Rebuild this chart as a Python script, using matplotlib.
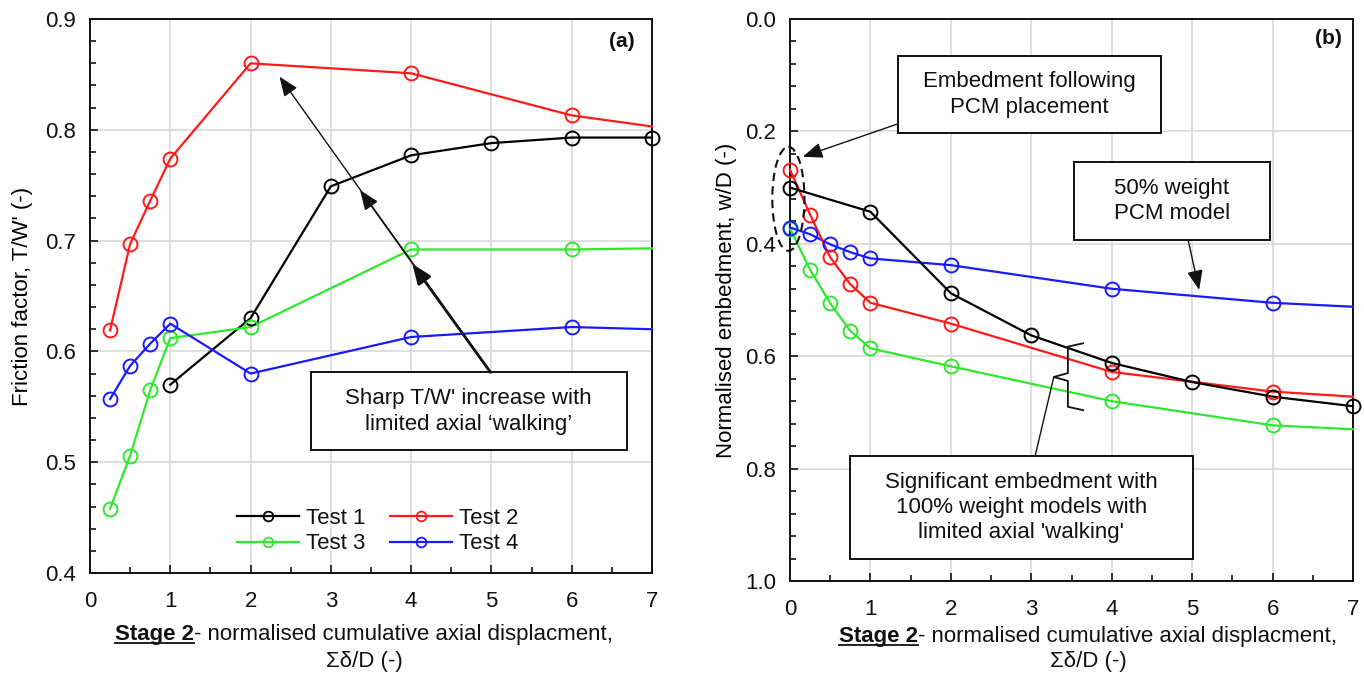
import numpy as np
import matplotlib
matplotlib.use("Agg")
import matplotlib.pyplot as plt
from matplotlib.patches import Rectangle, Ellipse
from matplotlib.lines import Line2D
from matplotlib.ticker import MultipleLocator, FormatStrFormatter

plt.rcParams['font.family'] = ['Liberation Sans', 'DejaVu Sans']
plt.rcParams['text.color'] = '#111111'

# ---------------- (a) friction factor T/W' ----------------
a_test1_x = [1, 2, 3, 4, 5, 6, 7]
a_test1_y = [0.570, 0.630, 0.749, 0.777, 0.788, 0.793, 0.793]
a_x = [0.25, 0.5, 0.75, 1, 2, 4, 6, 7]
a_test2_y = [0.619, 0.697, 0.736, 0.774, 0.860, 0.851, 0.813, 0.803]
a_test3_y = [0.458, 0.506, 0.565, 0.612, 0.622, 0.692, 0.692, 0.693]
a_test4_y = [0.557, 0.587, 0.607, 0.625, 0.580, 0.613, 0.622, 0.620]

# ---------------- (b) normalised embedment w/D ----------------
b_test1_x = [0, 1, 2, 3, 4, 5, 6, 7]
b_test1_y = [0.300, 0.343, 0.488, 0.563, 0.612, 0.646, 0.672, 0.689]
b_x = [0, 0.25, 0.5, 0.75, 1, 2, 4, 6, 7]
b_test2_y = [0.268, 0.348, 0.424, 0.472, 0.505, 0.542, 0.628, 0.663, 0.672]
b_test3_y = [0.373, 0.446, 0.506, 0.555, 0.586, 0.618, 0.680, 0.723, 0.730]
b_test4_y = [0.371, 0.383, 0.401, 0.415, 0.426, 0.438, 0.480, 0.505, 0.512]

series_names = ['Test 1', 'Test 2', 'Test 3', 'Test 4']
series_colors = ['#000000', '#ff1a1a', '#2ee82e', '#1a1aff']

W, H = 1364, 675
fig = plt.figure(figsize=(W / 100, H / 100), dpi=100)
ax1 = fig.add_axes([90 / W, 1 - 573 / H, 562 / W, 554 / H])
ax2 = fig.add_axes([790 / W, 1 - 581 / H, 563 / W, 562 / H])

LW, MS, MEW = 1.6, 10, 1.4
FS = 16


def draw_series(ax, x, y, color, last_marker=True):
    x = np.asarray(x, float)
    y = np.asarray(y, float)
    ax.plot(x, y, '-', color=color, lw=LW, zorder=3, clip_on=False)
    n = len(x) if last_marker else len(x) - 1
    ax.plot(x[:n], y[:n], 'o', mfc='none', mec=color, ms=MS, mew=MEW,
            zorder=4, clip_on=False)


def style_axes(ax, ylim, ymajor, yminor, yfmt):
    ax.set_xlim(0, 7)
    ax.set_ylim(*ylim)
    ax.xaxis.set_major_locator(MultipleLocator(1))
    ax.xaxis.set_minor_locator(MultipleLocator(0.5))
    ax.yaxis.set_major_locator(MultipleLocator(ymajor))
    ax.yaxis.set_minor_locator(MultipleLocator(yminor))
    ax.yaxis.set_major_formatter(FormatStrFormatter(yfmt))
    ax.xaxis.set_major_formatter(FormatStrFormatter('%d'))
    ax.tick_params(which='both', direction='in', top=False, right=False,
                   labelsize=FS, width=1.2, colors='#111111')
    ax.tick_params(axis='x', pad=13)
    ax.tick_params(axis='y', pad=10)
    ax.tick_params(which='major', length=6)
    ax.tick_params(which='minor', length=4)
    ax.grid(True, which='major', color='#d6d6d6', lw=1.1, zorder=0)
    for s in ax.spines.values():
        s.set_linewidth(1.4)
        s.set_color('#111111')


# ---- panel (a)
style_axes(ax1, (0.4, 0.9), 0.1, 0.02, '%.1f')
draw_series(ax1, a_test1_x, a_test1_y, series_colors[0], True)
draw_series(ax1, a_x, a_test2_y, series_colors[1], False)
draw_series(ax1, a_x, a_test3_y, series_colors[2], False)
draw_series(ax1, a_x, a_test4_y, series_colors[3], False)
ax1.set_ylabel("Friction factor, T/W' (-)", fontsize=FS)
ax1.yaxis.set_label_coords(-0.102, 0.5)
ax1.text(0.946, 0.959, '(a)', transform=ax1.transAxes, fontsize=FS - 1,
         fontweight='bold', ha='center', va='center')

handles = [Line2D([], [], color=c, lw=LW, marker='o', mfc='none', mec=c,
                  ms=7, mew=1.3) for c in series_colors]
# two columns, rows: Test 1 / Test 2, then Test 3 / Test 4
order = [0, 2, 1, 3]
ax1.legend([handles[i] for i in order], [series_names[i] for i in order],
           ncol=2, loc='center', bbox_to_anchor=(0.512, 0.0754),
           frameon=False, fontsize=FS, handlelength=2.8, handletextpad=0.3,
           columnspacing=1.1, labelspacing=0.2, borderaxespad=0, borderpad=0)

# callout box and arrows
ax1.add_patch(Rectangle((2.75, 0.511), 6.685 - 2.75, 0.581 - 0.511,
                        fill=True, fc='white', ec='#111111', lw=1.4, zorder=5))
ax1.text((2.75 + 6.685) / 2, 0.546,
         "Sharp T/W' increase with\nlimited axial \u2018walking\u2019",
         ha='center', va='center', fontsize=FS, linespacing=1.3, zorder=6)
arrow_start = (4.99, 0.581)
for tip, lw in [((2.36, 0.848), 1.0), ((3.364, 0.7455), 1.1), ((4.015, 0.679), 2.0)]:
    ax1.annotate('', xy=tip, xytext=arrow_start,
                 arrowprops=dict(arrowstyle='-|>,head_length=0.5,head_width=0.2',
                                 color='#111111', lw=lw,
                                 mutation_scale=24, shrinkA=0, shrinkB=0),
                 zorder=5)

# ---- panel (b)
style_axes(ax2, (1.0, 0.0), 0.2, 0.04, '%.1f')
draw_series(ax2, b_x, b_test3_y, series_colors[2], False)
draw_series(ax2, b_x, b_test4_y, series_colors[3], False)
draw_series(ax2, b_x, b_test2_y, series_colors[1], False)
draw_series(ax2, b_test1_x, b_test1_y, series_colors[0], True)
ax2.set_ylabel("Normalised embedment, w/D (-)", fontsize=FS)
ax2.yaxis.set_label_coords(-0.094, 0.5)
ax2.text(0.956, 0.966, '(b)', transform=ax2.transAxes, fontsize=FS - 1,
         fontweight='bold', ha='center', va='center')

head = '-|>,head_length=0.5,head_width=0.2'

# box 1: placement
ax2.add_patch(Rectangle((1.344, 0.066), 4.608 - 1.344, 0.203 - 0.066,
                        fc='white', ec='#111111', lw=1.4, zorder=5))
ax2.text((1.344 + 4.608) / 2, 0.1345, "Embedment following\nPCM placement",
         ha='center', va='center', fontsize=FS, linespacing=1.3, zorder=6)
ax2.annotate('', xy=(0.16, 0.245), xytext=(1.333, 0.187),
             arrowprops=dict(arrowstyle=head, color='#111111', lw=1.0,
                             mutation_scale=24, shrinkA=0, shrinkB=0), zorder=5)
ax2.add_patch(Ellipse((-0.02, 0.32), 0.40, 0.185, fill=False, ec='#111111',
                      lw=1.5, ls=(0, (4, 2.5)), zorder=6, clip_on=False))

# box 2: 50% weight model
ax2.add_patch(Rectangle((3.526, 0.255), 5.968 - 3.526, 0.393 - 0.255,
                        fc='white', ec='#111111', lw=1.4, zorder=5))
ax2.text((3.526 + 5.968) / 2, 0.324, "50% weight\nPCM model",
         ha='center', va='center', fontsize=FS, linespacing=1.3, zorder=6)
ax2.annotate('', xy=(5.087, 0.482), xytext=(4.95, 0.393),
             arrowprops=dict(arrowstyle=head, color='#111111', lw=1.0,
                             mutation_scale=24, shrinkA=0, shrinkB=0), zorder=5)

# box 3: 100% weight models with brace
ax2.add_patch(Rectangle((0.745, 0.778), 5.005 - 0.745, 0.961 - 0.778,
                        fc='white', ec='#111111', lw=1.4, zorder=5))
ax2.text((0.745 + 5.005) / 2, 0.8695,
         "Significant embedment with\n100% weight models with\nlimited axial 'walking'",
         ha='center', va='center', fontsize=FS, linespacing=1.25, zorder=6)
brace_x = [3.645, 3.455, 3.455, 3.28, 3.455, 3.455, 3.645]
brace_y = [0.577, 0.583, 0.630, 0.637, 0.644, 0.690, 0.696]
ax2.plot(brace_x, brace_y, color='#111111', lw=1.3, zorder=5)
ax2.plot([3.047, 3.28], [0.778, 0.637], color='#111111', lw=1.0, zorder=5)

# ---- x-axis labels with bold, underlined "Stage 2"
fig.canvas.draw()
renderer = fig.canvas.get_renderer()


def stage_label(cx, base1, cy2):
    t1 = fig.text(0, 1 - base1 / H, "Stage 2", fontsize=FS, fontweight='bold',
                  ha='left', va='baseline')
    t2 = fig.text(0, 1 - base1 / H, "- normalised cumulative axial displacment,",
                  fontsize=FS, ha='left', va='baseline')
    w1 = t1.get_window_extent(renderer).width
    w2 = t2.get_window_extent(renderer).width
    x0 = cx - (w1 + w2) / 2
    t1.set_x(x0 / W)
    t2.set_x((x0 + w1) / W)
    uy = 1 - (base1 + 2.5) / H
    fig.add_artist(Line2D([x0 / W, (x0 + w1) / W], [uy, uy], color='#111111',
                          lw=1.3, transform=fig.transFigure))
    fig.text(cx / W, 1 - cy2 / H, "\u03a3\u03b4/D (-)", fontsize=FS,
             ha='center', va='center')


stage_label(364, 640, 661)
stage_label(1088, 642, 662)

fig.savefig('out.png', dpi=100, facecolor='white')
